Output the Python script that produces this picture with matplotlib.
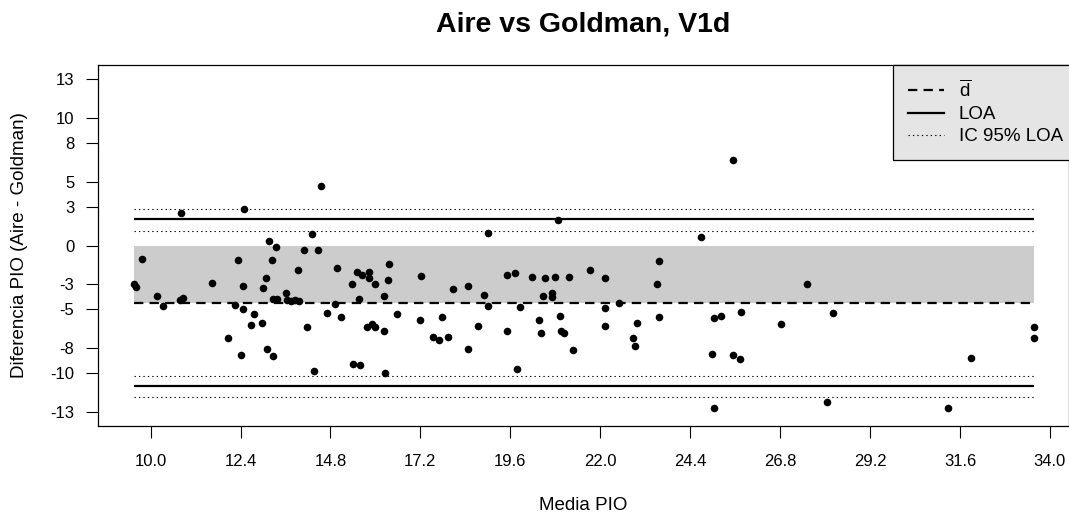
import matplotlib
matplotlib.use('Agg')
import matplotlib.pyplot as plt
from matplotlib.lines import Line2D
import numpy as np

plt.rcParams['font.family'] = ['Liberation Sans', 'DejaVu Sans']
plt.rcParams['mathtext.fontset'] = 'custom'
plt.rcParams['mathtext.rm'] = 'Liberation Sans'

# Media PIO (x) y Diferencia PIO (y)
media = [9.56, 9.62, 9.76, 10.80, 10.18, 10.34, 10.78, 10.87, 11.63, 12.32,
         12.50, 12.47, 12.26, 12.47, 12.07, 12.41, 12.76, 12.67, 12.98, 13.01,
         13.08, 13.17, 13.34, 13.23, 13.11, 13.27, 13.26, 13.37, 13.61, 13.63,
         13.74, 13.85, 13.96, 13.93, 14.09, 14.31, 14.46, 14.56, 14.17, 14.37,
         14.72, 14.91, 14.97, 15.07, 15.38, 15.50, 15.63, 15.82, 15.82, 15.98,
         15.57, 16.22, 16.36, 16.34, 16.58, 15.77, 15.92, 15.98, 16.22, 15.41,
         15.58, 16.26, 17.21, 17.18, 17.78, 17.53, 17.70, 17.94, 18.07, 18.46,
         18.46, 18.73, 18.91, 19.00, 19.01, 19.50, 19.73, 19.51, 19.77, 19.86,
         20.17, 20.36, 20.42, 20.46, 20.53, 20.71, 20.71, 20.78, 20.87, 20.93,
         20.96, 21.04, 21.17, 21.28, 21.73, 22.13, 22.13, 22.13, 22.51, 22.88,
         22.93, 22.99, 23.52, 23.58, 23.58, 24.69, 24.97, 25.03, 25.23, 25.04,
         25.53, 25.53, 25.73, 25.76, 26.82, 27.53, 28.06, 28.22, 31.27, 31.89,
         33.57, 33.57]
diferencia = [-3.03, -3.27, -1.02, 2.51, -3.97, -4.75, -4.23, -4.10, -2.90, -1.13,
              2.84, -3.16, -4.62, -5.01, -7.24, -8.54, -5.40, -6.22, -6.03, -3.32,
              -2.58, 0.36, -0.13, -1.13, -8.07, -8.65, -4.15, -4.15, -3.71, -4.28,
              -4.31, -4.26, -4.36, -1.88, -0.39, 0.88, -0.39, 4.64, -6.40, -9.82,
              -5.30, -4.57, -1.78, -5.56, -2.98, -2.11, -2.33, -2.11, -2.54, -2.98,
              -4.15, -3.92, -1.41, -2.69, -5.40, -6.40, -6.11, -6.40, -6.71, -9.24,
              -9.37, -10.00, -2.35, -5.85, -5.56, -7.13, -7.36, -7.13, -3.42, -3.16,
              -8.14, -6.30, -3.89, 0.94, -4.73, -2.33, -2.17, -6.69, -9.66, -4.83,
              -2.43, -5.85, -6.87, -3.99, -2.51, -3.68, -4.07, -2.43, 2.00, -5.48,
              -6.73, -6.87, -2.43, -8.18, -1.88, -2.51, -4.93, -6.32, -4.54, -7.24,
              -7.89, -6.03, -3.05, -1.23, -5.59, 0.65, -8.46, -5.67, -5.48, -12.69,
              6.66, -8.54, -8.90, -5.20, -6.11, -3.05, -12.25, -5.28, -12.76, -8.80,
              -6.37, -7.28]

d_media = -4.49
loa = [2.06, -11.02]
ic_loa = [1.17, 2.84, -11.88, -10.21]

xticks = [10.0, 12.4, 14.8, 17.2, 19.6, 22.0, 24.4, 26.8, 29.2, 31.6, 34.0]
yticks = [-13, -10, -8, -5, -3, 0, 3, 5, 8, 10, 13]

fig = plt.figure(figsize=(10.69, 5.17), dpi=100)
ax = fig.add_axes([98 / 1069, 1 - 426 / 517, 971 / 1069, 361 / 517])

xmin, xmax = min(media), max(media)

# banda gris entre 0 y la media de diferencias
ax.fill_between([xmin, xmax], d_media, 0, color='#cccccc', lw=0, zorder=1)

ax.hlines(d_media, xmin, xmax, colors='black', lw=1.6,
          linestyles=(0, (4.2, 2.8)), zorder=2)
ax.hlines(loa, xmin, xmax, colors='black', lw=1.6, zorder=2)
ax.hlines(ic_loa, xmin, xmax, colors='black', lw=0.8,
          linestyles=(0, (1.2, 2.8)), zorder=2)

ax.scatter(media, diferencia, s=30, color='black', lw=0, zorder=3)

ax.set_xlim(8.597, 34.51)
ax.set_ylim(-14.13, 14.13)
ax.set_xticks(xticks)
ax.set_xticklabels([f'{t:.1f}' for t in xticks])
ax.set_yticks(yticks)
ax.set_yticklabels([str(t) for t in yticks])
ax.tick_params(axis='both', length=8.4, width=0.8, labelsize=12)
ax.tick_params(axis='x', pad=11.5)
ax.tick_params(axis='y', pad=8.6)
for s in ax.spines.values():
    s.set_linewidth(0.9)

ax.set_xlabel('Media PIO', fontsize=13.5, va='center')
ax.xaxis.set_label_coords(0.5, -0.219)
ax.set_ylabel('Diferencia PIO (Aire - Goldman)', fontsize=13.5, va='center')
ax.yaxis.set_label_coords(-0.0805, 0.501)
ax.set_title('Aire vs Goldman, V1d', fontsize=20.5, fontweight='bold',
             y=1.113, va='center', pad=0)

handles = [
    Line2D([], [], color='black', lw=1.6, ls=(0, (4.2, 2.8))),
    Line2D([], [], color='black', lw=1.6),
    Line2D([], [], color='black', lw=0.8, ls=(0, (1.2, 2.8))),
]
leg = ax.legend(handles, [r'$\overline{\mathrm{d}}$', 'LOA', 'IC 95% LOA'],
                loc='upper right', bbox_to_anchor=(1.0093, 1.0), borderaxespad=0,
                fontsize=13.5, fancybox=False, framealpha=1,
                facecolor='#e5e5e5', edgecolor='black',
                handlelength=1.9, handletextpad=0.8, labelspacing=0.28,
                borderpad=0.8)
leg.get_frame().set_linewidth(0.9)

fig.savefig('out.png', dpi=100)
